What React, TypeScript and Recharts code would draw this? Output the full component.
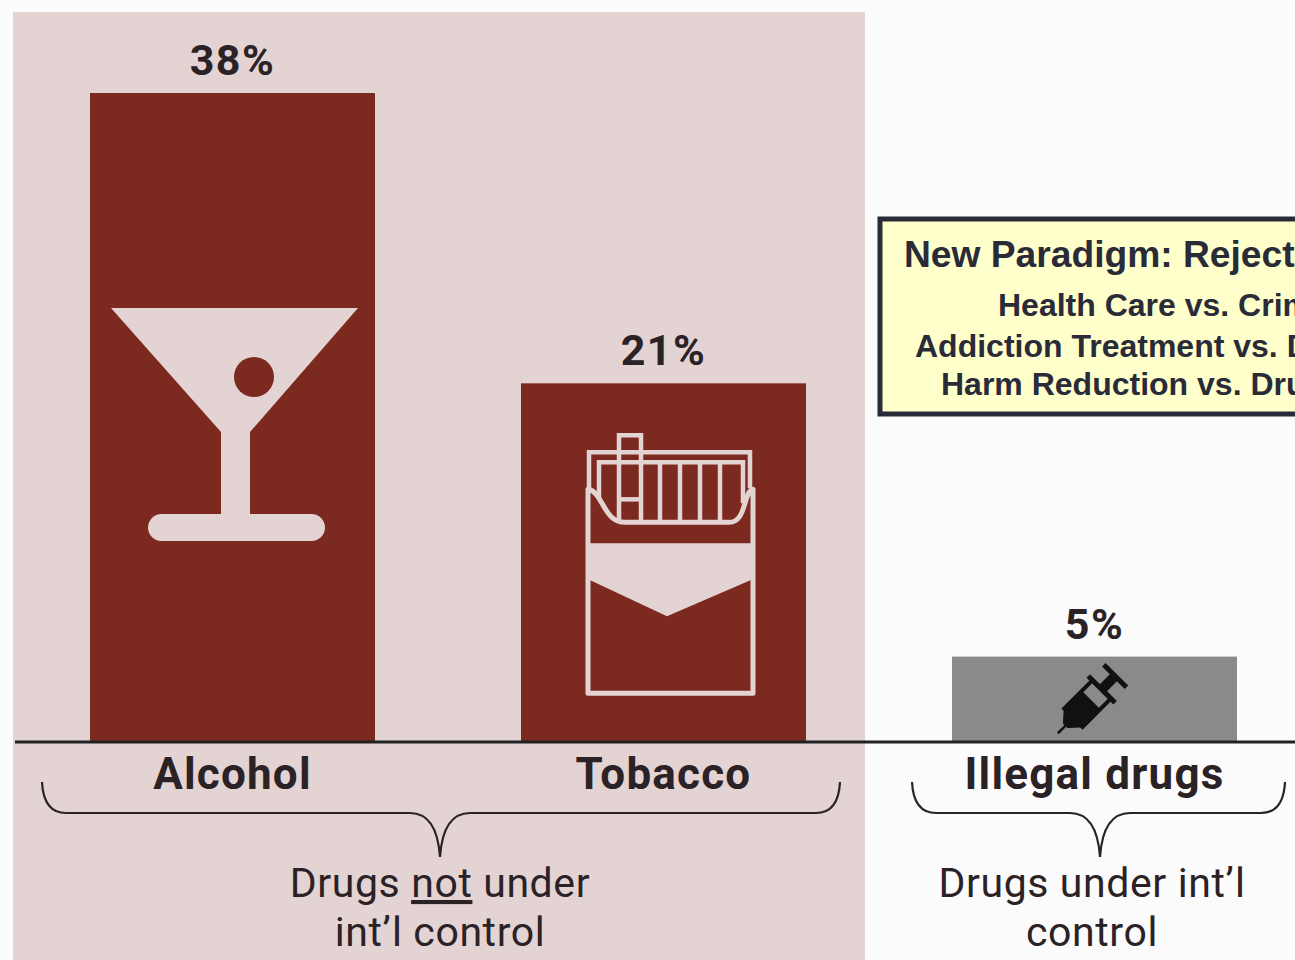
import React from "react";
import { BarChart, Bar, XAxis, YAxis, LabelList } from "recharts";

const categories = ["Alcohol", "Tobacco", "Illegal drugs"];
const harmShare = [38, 21, 5];

const chartData = categories.map((name, i) => ({ name, share: harmShare[i] }));

const RED = "#7c2a20";
const GREY = "#8a8a8a";
const PINK = "#e3d3d3";
const INK = "#2b2226";
const NAVY = "#2a2b38";

function MartiniIcon({ x, y }: { x: number; y: number }) {
  return (
    <g transform={`translate(${x} ${y})`}>
      <path d="M21 215H268L160 339V421H131V339Z" fill={PINK} />
      <rect x={58} y={421} width={177} height={27} rx={13.5} fill={PINK} />
      <circle cx={164} cy={284} r={20} fill={RED} />
    </g>
  );
}

function PackIcon({ x, y }: { x: number; y: number }) {
  const line = { fill: "none", stroke: PINK, strokeWidth: 4.5 };
  return (
    <g transform={`translate(${x} ${y})`}>
      <path d="M68 105V69H229V105" {...line} />
      <path d="M78 120V79H222V120" {...line} />
      <path
        d="M67 106C82 108 82 139 104 139H208C226 139 222 108 232 106V310H67Z"
        fill={RED}
        stroke={PINK}
        strokeWidth={5}
        strokeLinejoin="round"
      />
      {[139, 159, 179, 199].map((lx) => (
        <line key={lx} x1={lx} y1={79} x2={lx} y2={138} {...line} />
      ))}
      <path d="M98 138V52H120V138" {...line} />
      <line x1={98} y1={116} x2={120} y2={116} {...line} />
      <path d="M65 160H234V195L146 233L65 195Z" fill={PINK} />
    </g>
  );
}

function SyringeIcon({ x, y }: { x: number; y: number }) {
  return (
    <g transform={`translate(${x} ${y}) rotate(-45)`} fill="#111" stroke="#111">
      <line x1={-49} y1={0} x2={-30} y2={0} strokeWidth={2.5} />
      <path d="M-38 -3L-27 -13V13L-38 3Z" strokeWidth={1} />
      <rect x={-27} y={-13} width={40} height={26} fill="none" strokeWidth={4} />
      <rect x={-27} y={-12} width={25} height={24} strokeWidth={0} />
      <line x1={13} y1={-19} x2={13} y2={19} strokeWidth={5} />
      <rect x={13} y={-5} width={19} height={10} strokeWidth={0} />
      <line x1={32} y1={-16} x2={32} y2={16} strokeWidth={5} />
    </g>
  );
}

function IconBar(props: any) {
  const { x, y, width, height, payload } = props;
  const isIllegal = payload.name === "Illegal drugs";
  return (
    <g>
      <rect x={x} y={y} width={width} height={height} fill={isIllegal ? GREY : RED} />
      {payload.name === "Alcohol" && <MartiniIcon x={x} y={y} />}
      {payload.name === "Tobacco" && <PackIcon x={x} y={y} />}
      {isIllegal && <SyringeIcon x={x + width / 2 - 2} y={y + 42} />}
    </g>
  );
}

function Brace({ d }: { d: string }) {
  return <path d={d} fill="none" stroke={INK} strokeWidth={2.2} />;
}

const captionStyle = {
  fontFamily: "Roboto",
  fontSize: 41,
  letterSpacing: 0.6,
  fill: INK,
  textAnchor: "middle" as const,
};

const boxText = {
  fontFamily: "Liberation Sans",
  fontWeight: 700,
  fill: NAVY,
};

export default function App() {
  return (
    <div
      style={{
        position: "absolute",
        left: 0,
        top: 0,
        width: 1295,
        height: 960,
        overflow: "hidden",
        background: "#fbfbfb",
      }}
    >
      <div
        style={{ position: "absolute", left: 13, top: 12, width: 852, height: 948, background: PINK }}
      />
      <BarChart
        width={1310}
        height={960}
        data={chartData}
        margin={{ top: 93, right: 0, bottom: 0, left: 15 }}
        style={{ position: "absolute", left: 0, top: 0 }}
      >
        <XAxis
          dataKey="name"
          height={218}
          padding={{ left: 2, right: 0 }}
          interval={0}
          tickLine={false}
          axisLine={{ stroke: "#222", strokeWidth: 3 }}
          tickMargin={10}
          tick={{ fontFamily: "Roboto", fontWeight: 700, fontSize: 44, letterSpacing: 1.2, fill: INK }}
        />
        <YAxis hide domain={[0, 38]} />
        <Bar dataKey="share" barSize={285} shape={IconBar} isAnimationActive={false}>
          <LabelList
            dataKey="share"
            position="top"
            offset={18}
            formatter={(v: any) => `${v}%`}
            style={{ fontFamily: "Roboto", fontWeight: 700, fontSize: 43, letterSpacing: 1.5, fill: INK }}
          />
        </Bar>

        <Brace d="M42 782C43 802 50 813 66 813H410C428 813 438 828 440 857C442 828 452 813 470 813H816C832 813 839 802 840 782" />
        <Brace d="M912 782C913 802 920 813 936 813H1070C1088 813 1098 828 1100 857C1102 828 1112 813 1130 813H1261C1277 813 1284 802 1285 782" />

        <text x={440} y={897} {...captionStyle}>
          Drugs <tspan textDecoration="underline">not</tspan> under
        </text>
        <text x={440} y={946} {...captionStyle}>
          int’l control
        </text>
        <text x={1092} y={897} {...captionStyle}>
          Drugs under int’l
        </text>
        <text x={1092} y={946} {...captionStyle}>
          control
        </text>

        <rect x={880} y={219} width={430} height={195} fill="#ffffcc" stroke={NAVY} strokeWidth={5} />
        <text x={904} y={267} style={{ ...boxText, fontSize: 37.2 }}>
          New Paradigm: Reject
        </text>
        <text x={998} y={316} style={{ ...boxText, fontSize: 32 }}>
          Health Care vs. Crim
        </text>
        <text x={915} y={357} style={{ ...boxText, fontSize: 32 }}>
          Addiction Treatment vs. D
        </text>
        <text x={941} y={395} style={{ ...boxText, fontSize: 32 }}>
          Harm Reduction vs. Dru
        </text>
      </BarChart>
    </div>
  );
}
